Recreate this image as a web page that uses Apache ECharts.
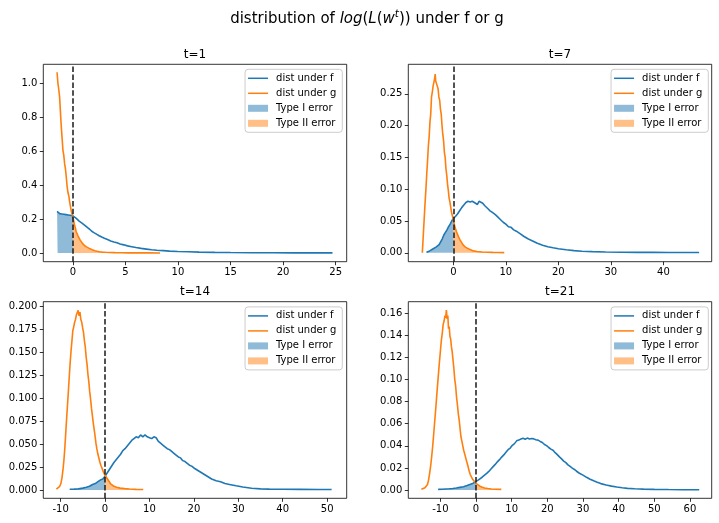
<!DOCTYPE html>
<html>
<head>
<meta charset="utf-8">
<script src="https://cdn.jsdelivr.net/npm/echarts@6/dist/echarts.min.js"></script>
<style>html,body{margin:0;padding:0;background:#fff}#c{width:719px;height:523px}</style>
</head>
<body>
<div id="c"></div>
<script>
// ---------------- data ----------------
const panelTitles = ['t=1', 't=7', 't=14', 't=21'];
const legendNames = ['dist under f', 'dist under g', 'Type I error', 'Type II error'];

const f_t1 = [[-1.50,0.245],[-1.45,0.238],[-1.35,0.236],[-1.25,0.232],[-1.15,0.234],[-1.05,0.230],[-0.95,0.231],[-0.85,0.228],[-0.75,0.229],[-0.65,0.226],[-0.55,0.227],[-0.45,0.224],[-0.35,0.225],[-0.25,0.222],[-0.15,0.221],[0,0.219],[0.15,0.212],[0.30,0.205],[0.45,0.198],[0.60,0.188],[0.75,0.186],[0.90,0.175],[1.05,0.168],[1.20,0.160],[1.40,0.149],[1.60,0.140],[1.80,0.128],[2.00,0.120],[2.25,0.111],[2.50,0.102],[2.75,0.094],[3.00,0.087],[3.30,0.079],[3.60,0.071],[3.90,0.065],[4.20,0.060],[4.50,0.053],[4.85,0.048],[5.20,0.042],[5.60,0.037],[6.00,0.032],[6.50,0.027],[7.00,0.023],[7.50,0.019],[8.00,0.016],[8.60,0.014],[9.20,0.011],[10.0,0.009],[11.0,0.007],[12.0,0.005],[13.5,0.0035],[15.0,0.0025],[17.0,0.0018],[19.0,0.0012],[21.0,0.0009],[23.0,0.0007],[24.7,0.0005]];
const g_t1 = [[-1.50,1.065],[-1.42,1.000],[-1.34,0.965],[-1.26,0.920],[-1.18,0.830],[-1.10,0.745],[-1.02,0.675],[-0.94,0.605],[-0.86,0.575],[-0.78,0.525],[-0.70,0.495],[-0.62,0.445],[-0.54,0.390],[-0.46,0.355],[-0.38,0.336],[-0.30,0.300],[-0.22,0.272],[-0.14,0.245],[-0.06,0.225],[0,0.211],[0.08,0.190],[0.16,0.165],[0.24,0.148],[0.32,0.125],[0.40,0.117],[0.50,0.100],[0.60,0.088],[0.70,0.076],[0.80,0.068],[0.90,0.058],[1.00,0.052],[1.10,0.044],[1.20,0.041],[1.30,0.036],[1.45,0.030],[1.60,0.026],[1.75,0.021],[1.90,0.017],[2.10,0.013],[2.30,0.010],[2.55,0.007],[2.80,0.005],[3.10,0.004],[3.50,0.003],[4.00,0.002],[4.60,0.0015],[5.30,0.001],[6.20,0.0007],[7.20,0.0005],[8.30,0.0003]];

const f_t7 = [[-5.10,0.001],[-4.80,0.002],[-4.50,0.003],[-4.20,0.004],[-3.90,0.006],[-3.60,0.007],[-3.30,0.009],[-3.00,0.011],[-2.70,0.013],[-2.40,0.016],[-2.10,0.022],[-1.80,0.028],[-1.50,0.032],[-1.20,0.036],[-0.90,0.041],[-0.60,0.045],[-0.30,0.050],[0,0.054],[0.40,0.057],[0.80,0.061],[1.20,0.066],[1.60,0.071],[2.00,0.075],[2.40,0.079],[2.80,0.081],[3.20,0.080],[3.60,0.081],[4.00,0.079],[4.30,0.081],[4.60,0.076],[4.90,0.081],[5.20,0.082],[5.60,0.078],[6.00,0.074],[6.50,0.070],[7.00,0.066],[7.50,0.063],[8.00,0.060],[8.50,0.056],[9.00,0.052],[9.50,0.048],[10.0,0.045],[10.5,0.041],[11.0,0.040],[11.5,0.036],[12.0,0.034],[12.7,0.030],[13.4,0.026],[14.2,0.022],[15.0,0.019],[16.0,0.015],[17.0,0.012],[18.0,0.0095],[19.0,0.0078],[20.0,0.0064],[21.5,0.0047],[23.0,0.0034],[24.5,0.0025],[26.5,0.0018],[29.0,0.0012],[32.0,0.0009],[35.0,0.0007],[38.0,0.0006],[41.0,0.0005],[44.0,0.0004],[46.8,0.0004]];
const g_t7 = [[-5.90,0.000],[-5.70,0.030],[-5.50,0.060],[-5.35,0.082],[-5.20,0.102],[-5.05,0.125],[-4.90,0.145],[-4.75,0.168],[-4.60,0.182],[-4.45,0.205],[-4.30,0.218],[-4.15,0.245],[-4.00,0.252],[-3.85,0.262],[-3.70,0.268],[-3.55,0.274],[-3.45,0.281],[-3.35,0.270],[-3.20,0.272],[-3.05,0.262],[-2.90,0.258],[-2.75,0.245],[-2.60,0.240],[-2.45,0.226],[-2.30,0.218],[-2.15,0.200],[-2.00,0.186],[-1.85,0.176],[-1.70,0.158],[-1.55,0.150],[-1.40,0.132],[-1.25,0.122],[-1.10,0.108],[-0.95,0.098],[-0.80,0.086],[-0.65,0.080],[-0.50,0.072],[-0.35,0.064],[-0.20,0.059],[0,0.052],[0.20,0.044],[0.40,0.038],[0.60,0.033],[0.80,0.029],[1.00,0.025],[1.30,0.020],[1.60,0.016],[1.90,0.012],[2.30,0.009],[2.70,0.007],[3.20,0.005],[3.80,0.003],[4.50,0.002],[5.50,0.0013],[6.50,0.0009],[7.50,0.0006],[8.50,0.0004],[9.70,0.0003]];

const f_t14 = [[-7.95,0.0007],[-7.00,0.0009],[-6.00,0.0012],[-5.00,0.002],[-4.20,0.003],[-3.50,0.004],[-2.80,0.006],[-2.20,0.007],[-1.60,0.009],[-1.00,0.011],[-0.50,0.012],[0,0.015],[0.40,0.018],[0.80,0.021],[1.20,0.023],[1.60,0.027],[2.00,0.030],[2.50,0.033],[3.00,0.036],[3.50,0.039],[4.00,0.043],[4.50,0.045],[5.00,0.048],[5.50,0.051],[6.00,0.054],[6.50,0.056],[7.00,0.058],[7.50,0.057],[8.00,0.060],[8.50,0.058],[9.00,0.060],[9.50,0.058],[10.0,0.057],[10.5,0.056],[11.0,0.058],[11.5,0.057],[12.0,0.053],[12.5,0.051],[13.0,0.049],[13.5,0.047],[14.0,0.045],[14.5,0.044],[15.0,0.042],[15.5,0.040],[16.0,0.038],[16.5,0.036],[17.0,0.035],[17.5,0.032],[18.0,0.031],[18.5,0.029],[19.0,0.027],[19.5,0.026],[20.0,0.024],[21.0,0.021],[22.0,0.018],[23.0,0.015],[24.0,0.012],[25.0,0.010],[26.0,0.009],[27.0,0.007],[28.0,0.006],[29.5,0.0045],[31.0,0.0032],[33.0,0.0019],[35.0,0.0012],[37.0,0.0009],[40.0,0.0007],[44.0,0.0006],[48.0,0.0005],[51.0,0.0005]];
const g_t14 = [[-10.95,0.001],[-10.60,0.002],[-10.20,0.004],[-9.95,0.007],[-9.70,0.013],[-9.45,0.023],[-9.25,0.033],[-9.05,0.046],[-8.85,0.062],[-8.65,0.078],[-8.45,0.093],[-8.25,0.108],[-8.05,0.124],[-7.85,0.139],[-7.65,0.152],[-7.45,0.163],[-7.25,0.174],[-7.05,0.178],[-6.85,0.183],[-6.65,0.186],[-6.45,0.191],[-6.25,0.189],[-6.05,0.196],[-5.85,0.190],[-5.65,0.194],[-5.45,0.186],[-5.25,0.183],[-5.05,0.177],[-4.85,0.172],[-4.65,0.163],[-4.45,0.156],[-4.25,0.145],[-4.05,0.137],[-3.85,0.126],[-3.65,0.118],[-3.45,0.107],[-3.25,0.099],[-3.05,0.089],[-2.85,0.081],[-2.65,0.073],[-2.45,0.066],[-2.25,0.059],[-2.05,0.051],[-1.85,0.045],[-1.65,0.040],[-1.45,0.036],[-1.20,0.031],[-0.95,0.027],[-0.70,0.024],[-0.40,0.020],[0,0.016],[0.40,0.013],[0.80,0.010],[1.20,0.007],[1.60,0.005],[2.00,0.004],[2.60,0.003],[3.40,0.002],[4.40,0.0015],[5.50,0.001],[7.00,0.0006],[8.60,0.0005]];

const f_t21 = [[-10.6,0.0006],[-9.5,0.0007],[-8.5,0.0009],[-7.5,0.0011],[-6.5,0.0014],[-5.5,0.0018],[-4.5,0.0024],[-3.5,0.0030],[-2.5,0.0040],[-1.5,0.0053],[-0.8,0.0062],[0,0.0078],[0.6,0.0090],[1.2,0.0104],[1.8,0.0118],[2.4,0.0134],[3.0,0.0150],[3.6,0.0168],[4.2,0.0190],[4.8,0.0212],[5.4,0.0232],[6.0,0.0255],[6.6,0.0275],[7.2,0.0298],[7.8,0.0318],[8.4,0.0342],[9.0,0.0365],[9.6,0.0380],[10.2,0.0405],[10.8,0.0420],[11.4,0.0445],[12.0,0.0452],[12.6,0.0462],[13.2,0.0468],[13.8,0.0460],[14.4,0.0470],[15.0,0.0462],[15.6,0.0466],[16.2,0.0463],[16.8,0.0455],[17.4,0.0452],[18.0,0.0440],[18.6,0.0430],[19.2,0.0412],[19.8,0.0402],[20.4,0.0385],[21.0,0.0370],[21.6,0.0360],[22.2,0.0338],[22.8,0.0320],[23.4,0.0300],[24.0,0.0282],[24.6,0.0262],[25.2,0.0248],[25.8,0.0228],[26.4,0.0213],[27.0,0.0198],[27.6,0.0186],[28.2,0.0170],[29.0,0.0152],[30.0,0.0135],[31.0,0.0115],[32.0,0.0098],[33.0,0.0083],[34.0,0.0070],[35.0,0.0058],[36.5,0.0045],[38.0,0.0035],[39.5,0.0027],[41.0,0.0020],[42.5,0.0015],[44.5,0.0011],[47.0,0.0008],[50.0,0.0006],[54.0,0.0004],[58.0,0.0003],[62.6,0.0003]];
const g_t21 = [[-15.30,0.0006],[-14.80,0.001],[-14.30,0.002],[-13.90,0.003],[-13.60,0.005],[-13.30,0.009],[-13.00,0.015],[-12.70,0.022],[-12.40,0.031],[-12.10,0.041],[-11.80,0.053],[-11.50,0.065],[-11.20,0.077],[-10.90,0.090],[-10.60,0.102],[-10.30,0.114],[-10.00,0.125],[-9.70,0.136],[-9.45,0.142],[-9.20,0.150],[-8.95,0.153],[-8.70,0.158],[-8.50,0.156],[-8.30,0.163],[-8.10,0.155],[-7.90,0.158],[-7.70,0.146],[-7.50,0.148],[-7.30,0.139],[-7.10,0.137],[-6.90,0.130],[-6.70,0.126],[-6.45,0.118],[-6.20,0.110],[-5.95,0.100],[-5.70,0.094],[-5.45,0.084],[-5.20,0.077],[-4.95,0.069],[-4.70,0.063],[-4.45,0.055],[-4.20,0.048],[-3.95,0.044],[-3.70,0.040],[-3.45,0.036],[-3.20,0.033],[-2.95,0.030],[-2.70,0.027],[-2.45,0.024],[-2.20,0.021],[-1.90,0.017],[-1.60,0.014],[-1.30,0.012],[-1.00,0.010],[-0.50,0.008],[0,0.006],[0.50,0.005],[1.00,0.0037],[1.60,0.0027],[2.40,0.0018],[3.30,0.0013],[4.30,0.0009],[5.50,0.0007],[7.10,0.0006]];

// tick values per panel
const xTicks_t1 = [0, 5, 10, 15, 20, 25];
const yTicks_t1 = [0, 0.2, 0.4, 0.6, 0.8, 1.0];
const xTicks_t7 = [0, 10, 20, 30, 40];
const yTicks_t7 = [0, 0.05, 0.10, 0.15, 0.20, 0.25];
const xTicks_t14 = [-10, 0, 10, 20, 30, 40, 50];
const yTicks_t14 = [0, 0.025, 0.05, 0.075, 0.1, 0.125, 0.15, 0.175, 0.2];
const xTicks_t21 = [-10, 0, 10, 20, 30, 40, 50, 60];
const yTicks_t21 = [0, 0.02, 0.04, 0.06, 0.08, 0.10, 0.12, 0.14, 0.16];

// ---------------- layout ----------------
const BLUE = '#1f77b4', ORANGE = '#ff7f0e';
const FONT = 'DejaVu Sans';
const panels = [
  {f: f_t1, g: g_t1, xt: xTicks_t1, yt: yTicks_t1, yd: 1, grid: {left: 43.3, top: 64.3, width: 303.4, height: 197.4}, xr: [-2.81, 26.05], yr: [-0.0513, 1.112], legend: {right: 376.7, top: 69.3}},
  {f: f_t7, g: g_t7, xt: xTicks_t7, yt: yTicks_t7, yd: 2, grid: {left: 408.3, top: 64.3, width: 303.4, height: 197.4}, xr: [-8.57, 49.2], yr: [-0.014, 0.2963], legend: {right: 10.7, top: 69.3}},
  {f: f_t14, g: g_t14, xt: xTicks_t14, yt: yTicks_t14, yd: 3, grid: {left: 43.3, top: 301.7, width: 303.4, height: 196.6}, xr: [-13.9, 54.4], yr: [-0.0091, 0.2054], legend: {right: 376.7, top: 306.9}},
  {f: f_t21, g: g_t21, xt: xTicks_t21, yt: yTicks_t21, yd: 2, grid: {left: 408.3, top: 301.7, width: 303.4, height: 196.6}, xr: [-18.98, 66.1], yr: [-0.0075, 0.1705], legend: {right: 10.7, top: 306.9}}
];

const grids = [], xAxes = [], yAxes = [], series = [], legends = [];
const titles = [{
  left: 367, top: 9, textAlign: 'center', padding: 0,
  text: '{n|distribution of }{i|log}{n|(}{i|L}{n|(}{i|w}{s|t}{n|)) under f or g}',
  textStyle: {
    fontWeight: 'normal',
    rich: {
      n: {fontFamily: FONT, fontSize: 15, fontWeight: 'normal', color: '#000', lineHeight: 20},
      i: {fontFamily: FONT, fontSize: 15, fontWeight: 'normal', fontStyle: 'italic', color: '#000', lineHeight: 20},
      s: {fontFamily: FONT, fontSize: 10.5, fontWeight: 'normal', fontStyle: 'italic', color: '#000', lineHeight: 10, verticalAlign: 'top'}
    }
  }
}];

panels.forEach((p, i) => {
  grids.push(Object.assign({show: true, borderColor: '#000', borderWidth: 0.8, backgroundColor: 'transparent', outerBoundsMode: 'none', containLabel: false}, p.grid));
  const axisText = {color: '#000', fontSize: 10, fontFamily: FONT};
  xAxes.push({
    type: 'value', gridIndex: i, min: p.xr[0], max: p.xr[1], position: 'bottom',
    axisLine: {show: false, onZero: false}, splitLine: {show: false},
    axisTick: {show: true, length: 3.5, inside: false, lineStyle: {color: '#000', width: 0.8}, customValues: p.xt},
    axisLabel: Object.assign({show: true, margin: 6, customValues: p.xt, formatter: v => String(Math.round(v))}, axisText)
  });
  yAxes.push({
    type: 'value', gridIndex: i, min: p.yr[0], max: p.yr[1], position: 'left',
    axisLine: {show: false, onZero: false}, splitLine: {show: false},
    axisTick: {show: true, length: 3.5, inside: false, lineStyle: {color: '#000', width: 0.8}, customValues: p.yt},
    axisLabel: Object.assign({show: true, margin: 6, customValues: p.yt, formatter: v => v.toFixed(p.yd)}, axisText)
  });
  const base = {type: 'line', xAxisIndex: i, yAxisIndex: i, symbol: 'none', showSymbol: false, animation: false, silent: true, clip: true};
  series.push(Object.assign({}, base, {
    name: 'dist under f', data: p.f, color: BLUE, lineStyle: {color: BLUE, width: 1.6}, z: 2,
    markLine: {silent: true, symbol: ['none', 'none'], label: {show: false}, animation: false,
      lineStyle: {color: '#1a1a1a', type: [5.5, 2.4], width: 1.5}, data: [{xAxis: 0}]}
  }));
  series.push(Object.assign({}, base, {name: 'dist under g', data: p.g, color: ORANGE, lineStyle: {color: ORANGE, width: 1.6}, z: 2}));
  series.push(Object.assign({}, base, {name: 'Type I error', data: p.f.filter(d => d[0] <= 0), color: BLUE,
    lineStyle: {width: 0}, areaStyle: {color: BLUE, opacity: 0.5, origin: 0}, z: 3}));
  series.push(Object.assign({}, base, {name: 'Type II error', data: p.g.filter(d => d[0] >= 0), color: ORANGE,
    lineStyle: {width: 0}, areaStyle: {color: ORANGE, opacity: 0.5, origin: 0}, z: 3}));
  legends.push({
    orient: 'vertical', right: p.legend.right, top: p.legend.top,
    itemWidth: 20, itemHeight: 7, itemGap: 3, padding: [3, 6, 3, 3],
    backgroundColor: 'rgba(255,255,255,0.8)', borderColor: '#cccccc', borderWidth: 1, borderRadius: 3,
    selectedMode: false, itemStyle: {borderWidth: 0},
    textStyle: {fontFamily: FONT, fontSize: 10, color: '#000', lineHeight: 12, padding: [0, 0, 0, 3]},
    data: [
      {name: legendNames[0], icon: 'path://M0,0H20V1.5H0Z', itemStyle: {color: BLUE, borderWidth: 0}},
      {name: legendNames[1], icon: 'path://M0,0H20V1.5H0Z', itemStyle: {color: ORANGE, borderWidth: 0}},
      {name: legendNames[2], icon: 'rect', itemStyle: {color: BLUE, opacity: 0.5, borderWidth: 0}},
      {name: legendNames[3], icon: 'rect', itemStyle: {color: ORANGE, opacity: 0.5, borderWidth: 0}}
    ]
  });
  titles.push({
    text: panelTitles[i], left: p.grid.left + p.grid.width / 2, top: p.grid.top - 15.6, textAlign: 'center', padding: 0,
    textStyle: {fontFamily: FONT, fontSize: 12, fontWeight: 'normal', color: '#000', lineHeight: 12}
  });
});

const chart = echarts.init(document.getElementById('c'), null, {renderer: 'canvas'});
chart.setOption({
  animation: false,
  backgroundColor: '#fff',
  title: titles,
  grid: grids,
  xAxis: xAxes,
  yAxis: yAxes,
  legend: legends,
  series: series
});
</script>
</body>
</html>
